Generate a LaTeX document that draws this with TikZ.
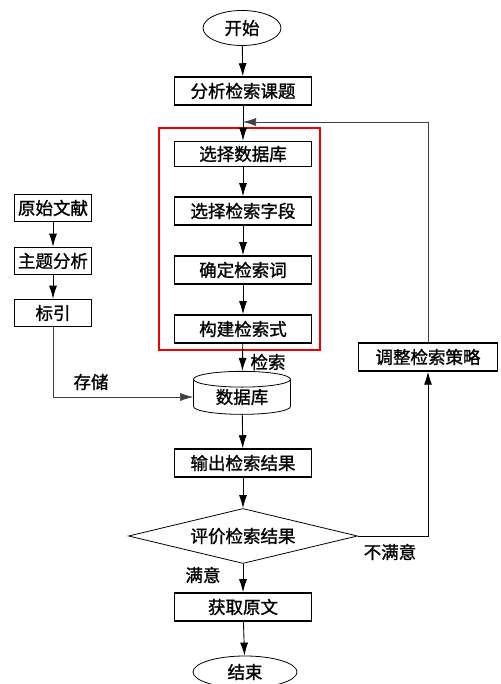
\documentclass[tikz,border=0pt]{standalone}
\usepackage{fontspec}
\setmainfont{Noto Sans CJK SC}[FakeBold=1.2]
\usetikzlibrary{arrows.meta,shapes.geometric}

\begin{document}
\begin{tikzpicture}[x=1pt, y=1pt,
  every node/.style={font=\fontsize{17.5}{20}\selectfont},
  box/.style={draw, line width=1.5pt, minimum width=137pt, minimum height=28pt, inner sep=0pt},
  sidebox/.style={draw, line width=1.5pt, minimum width=77pt, minimum height=27pt, inner sep=0pt},
  oval/.style={draw, ellipse, line width=0.8pt, inner sep=0pt},
  arr/.style={-{Latex[length=13pt,width=8pt]}, line width=0.9pt},
  thinarr/.style={-{Latex[length=13pt,width=8pt]}, line width=0.6pt, draw=black!75}]
  % 画布 (500 x 684)
  \useasboundingbox (0,0) rectangle (500,684);

  % 主流程
  \node[oval, minimum width=78pt, minimum height=35pt] (start) at (242,656) {开始};
  \node[box] (fenxi) at (243,593) {分析检索课题};
  \node[box, minimum height=25pt] (xzsjk) at (243,530) {选择数据库};
  \node[box] (xzzd) at (243,473) {选择检索字段};
  \node[box] (qdc) at (243,414) {确定检索词};
  \node[box] (gjs) at (243,355) {构建检索式};
  \node[draw, cylinder, shape border rotate=90, aspect=0.3, line width=0.8pt,
        minimum width=97pt, minimum height=43pt, inner sep=0pt] (sjk) at (242,287) {数据库};
  \node[box] (shuchu) at (243,221) {输出检索结果};
  \node[draw, diamond, aspect=4.16, line width=0.8pt, inner sep=0pt,
        minimum width=229pt, minimum height=55pt] (pingjia) at (243,148) {评价检索结果};
  \node[box] (huoqu) at (243,77) {获取原文};
  \node[oval, minimum width=104pt, minimum height=32pt] (end) at (245,12) {结束};

  % 左侧: 文献标引
  \node[sidebox] (yswx) at (53,476) {原始文献};
  \node[sidebox] (ztfx) at (53,423) {主题分析};
  \node[sidebox] (biaoyin) at (53,371) {标引};

  % 右侧: 调整策略
  \node[box, minimum width=139pt] (tiaozheng) at (428,327) {调整检索策略};

  % 红框
  \draw[red!95!black, line width=2.8pt] (159,556) rectangle (320,334);

  % 标注
  \node (jiansuo) at (268,322) {检索};
  \node (cunchu) at (91,302) {存储};
  \node (bumanyi) at (390,132) {不满意};
  \node (manyi) at (203,109) {满意};

  % 连线
  \coordinate (fb) at (243,562);
  \draw[arr] (start) -- (fenxi);
  \draw[arr] (fenxi) -- (xzsjk);
  \draw[arr] (xzsjk) -- (xzzd);
  \draw[arr] (xzzd) -- (qdc);
  \draw[arr] (qdc) -- (gjs);
  \draw[arr] (gjs) -- (sjk);
  \draw[arr] (sjk) -- (shuchu);
  \draw[arr] (shuchu) -- (pingjia);
  \draw[arr] (pingjia) -- (huoqu);
  \draw[arr] (huoqu) -- (end);
  \draw[arr] (yswx) -- (ztfx);
  \draw[arr] (ztfx) -- (biaoyin);
  \draw[thinarr] (biaoyin.south) |- (sjk.west);
  \draw[arr] (pingjia.east) -| (tiaozheng.south);
  \draw[thinarr] (tiaozheng.north) |- (fb);

\end{tikzpicture}
\end{document}
